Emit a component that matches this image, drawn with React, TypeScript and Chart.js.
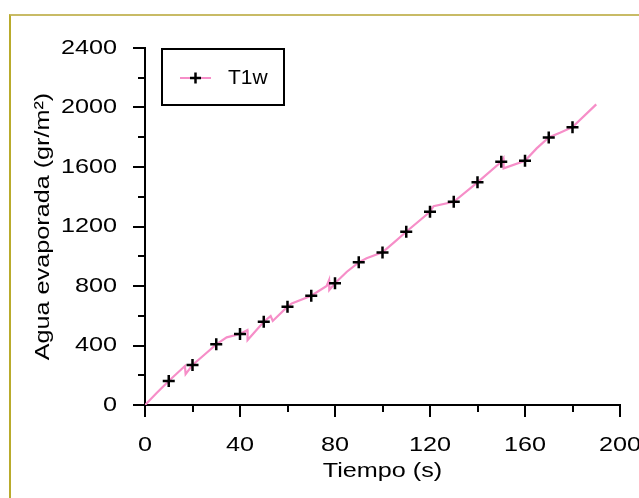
import React, { useEffect, useRef } from "react";
import { Chart, registerables } from "chart.js";

Chart.register(...registerables);

const lineTime = [0, 5, 10, 16.8, 17.1, 20, 25, 30, 34.4, 40, 43.1, 43.2, 46.3, 50, 52.9, 53.8, 60, 61.8, 70, 76.5, 77.5, 77.6, 80, 85, 90, 93.3, 100, 105, 110, 120, 121.5, 130, 140, 150, 150.9, 151, 160, 164.9, 170, 174.7, 180, 190];
const lineValue = [0, 82, 161, 262, 208, 269, 338, 408, 455, 477, 504, 437, 493, 560, 598, 565, 661, 683, 735, 800, 840, 773, 818, 896, 959, 986, 1026, 1095, 1165, 1299, 1337, 1366, 1497, 1635, 1658, 1591, 1642, 1725, 1799, 1830, 1868, 2021];

const markerTime = [10, 20, 30, 40, 50, 60, 70, 80, 90, 100, 110, 120, 130, 140, 150, 160, 170, 180];
const markerValue = [161, 269, 408, 477, 560, 661, 735, 818, 959, 1026, 1165, 1299, 1366, 1497, 1635, 1642, 1799, 1868];

const seriesName = "T1w";
const xTitle = "Tiempo (s)";
const yTitle = "Agua evaporada (gr/m²)";
const xMin = 0, xMax = 200, xStep = 40;
const yMin = 0, yMax = 2400, yStep = 400;

const FONT = "'Liberation Sans', Arial, sans-serif";
const PINK = "#f68ec8";
const TEXT_STRETCH = 1.2;

export default function App() {
  const ref = useRef<HTMLCanvasElement>(null);
  useEffect(() => {
    const canvas = ref.current!;
    const c2d: any = canvas.getContext("2d");
    const origFill = c2d.fillText.bind(c2d);
    c2d.fillText = function (text: string, x: number, y: number, maxWidth?: number) {
      this.save();
      this.translate(x, y);
      this.scale(TEXT_STRETCH, 1);
      if (maxWidth !== undefined) origFill(text, 0, 0, maxWidth / TEXT_STRETCH);
      else origFill(text, 0, 0);
      this.restore();
    };
    const minorTicks = {
      id: "minorTicks",
      afterDraw(chart: any) {
        const { ctx, chartArea, scales } = chart;
        ctx.save();
        ctx.strokeStyle = "#000";
        ctx.lineWidth = 2;
        for (let v = yMin + yStep / 2; v < yMax; v += yStep) {
          const y = Math.round(scales.y.getPixelForValue(v));
          ctx.beginPath();
          ctx.moveTo(chartArea.left - 7, y);
          ctx.lineTo(chartArea.left, y);
          ctx.stroke();
        }
        for (let v = xMin + xStep / 2; v < xMax; v += xStep) {
          const x = Math.round(scales.x.getPixelForValue(v));
          ctx.beginPath();
          ctx.moveTo(x, chartArea.bottom);
          ctx.lineTo(x, chartArea.bottom + 7);
          ctx.stroke();
        }
        // legend
        const bx = chartArea.left + 17, by = chartArea.top + 1;
        ctx.lineWidth = 2;
        ctx.strokeRect(bx, by, 122, 56);
        const ly = by + 29;
        ctx.strokeStyle = PINK;
        ctx.beginPath();
        ctx.moveTo(bx + 18, ly);
        ctx.lineTo(bx + 49, ly);
        ctx.stroke();
        ctx.strokeStyle = "#000";
        ctx.lineWidth = 2.5;
        ctx.beginPath();
        ctx.moveTo(bx + 28, ly);
        ctx.lineTo(bx + 39, ly);
        ctx.moveTo(bx + 33.5, ly - 5.5);
        ctx.lineTo(bx + 33.5, ly + 5.5);
        ctx.stroke();
        ctx.fillStyle = "#000";
        ctx.font = `21px ${FONT}`;
        ctx.textBaseline = "middle";
        ctx.textAlign = "left";
        origFill(seriesName, bx + 66, ly);
        ctx.restore();
      },
    };
    const chart = new Chart(canvas, {
      type: "scatter",
      data: {
        datasets: [
          {
            label: seriesName + " markers",
            data: markerTime.map((t, i) => ({ x: t, y: markerValue[i] })),
            showLine: false,
            pointStyle: "cross",
            pointRadius: 6,
            borderColor: "#000",
            backgroundColor: "#000",
            borderWidth: 2.5,
            order: 0,
          },
          {
            label: seriesName,
            data: lineTime.map((t, i) => ({ x: t, y: lineValue[i] })),
            showLine: true,
            pointRadius: 0,
            borderColor: PINK,
            borderWidth: 2.2,
            tension: 0,
            order: 1,
          },
        ],
      },
      plugins: [minorTicks],
      options: {
        responsive: false,
        animation: false,
        devicePixelRatio: 1,
        layout: { padding: { left: 0, right: 19, top: 48, bottom: 0 } },
        plugins: { legend: { display: false }, tooltip: { enabled: false } },
        scales: {
          x: {
            type: "linear",
            min: xMin,
            max: xMax,
            afterFit: (s: any) => { s.height = 93; s.paddingRight = 0; s.paddingLeft = 0; },
            ticks: { stepSize: xStep, color: "#000", font: { family: FONT, size: 21 }, padding: 16, maxRotation: 0, callback: (v: any) => String(v) },
            grid: { drawOnChartArea: false, drawTicks: true, tickLength: 12, color: "#000", lineWidth: 2 },
            border: { display: true, color: "#000", width: 2 },
            title: { display: true, text: xTitle, color: "#000", font: { family: FONT, size: 21 }, padding: { top: 0, bottom: 14 } },
          },
          y: {
            type: "linear",
            min: yMin,
            max: yMax,
            afterFit: (s: any) => { s.width = 145; s.paddingTop = 0; s.paddingBottom = 0; },
            ticks: { stepSize: yStep, color: "#000", font: { family: FONT, size: 21 }, padding: 16, callback: (v: any) => String(v) },
            grid: { drawOnChartArea: false, drawTicks: true, tickLength: 12, color: "#000", lineWidth: 2 },
            border: { display: true, color: "#000", width: 2 },
            title: { display: true, text: yTitle, color: "#000", font: { family: FONT, size: 21 }, padding: { top: 31, bottom: 0 } },
          },
        },
      },
    });
    return () => chart.destroy();
  }, []);
  return (
    <div style={{ position: "fixed", left: 0, top: 0, width: 639, height: 498, overflow: "hidden", background: "#fff" }}>
      <div style={{ position: "absolute", left: 9, top: 14, width: 900, height: 900, borderLeft: "2px solid #b9ab2c", borderTop: "2px solid #c8bb66" }} />
      <canvas ref={ref} width={639} height={498} style={{ position: "absolute", left: 0, top: 0, width: 639, height: 498 }} />
    </div>
  );
}
